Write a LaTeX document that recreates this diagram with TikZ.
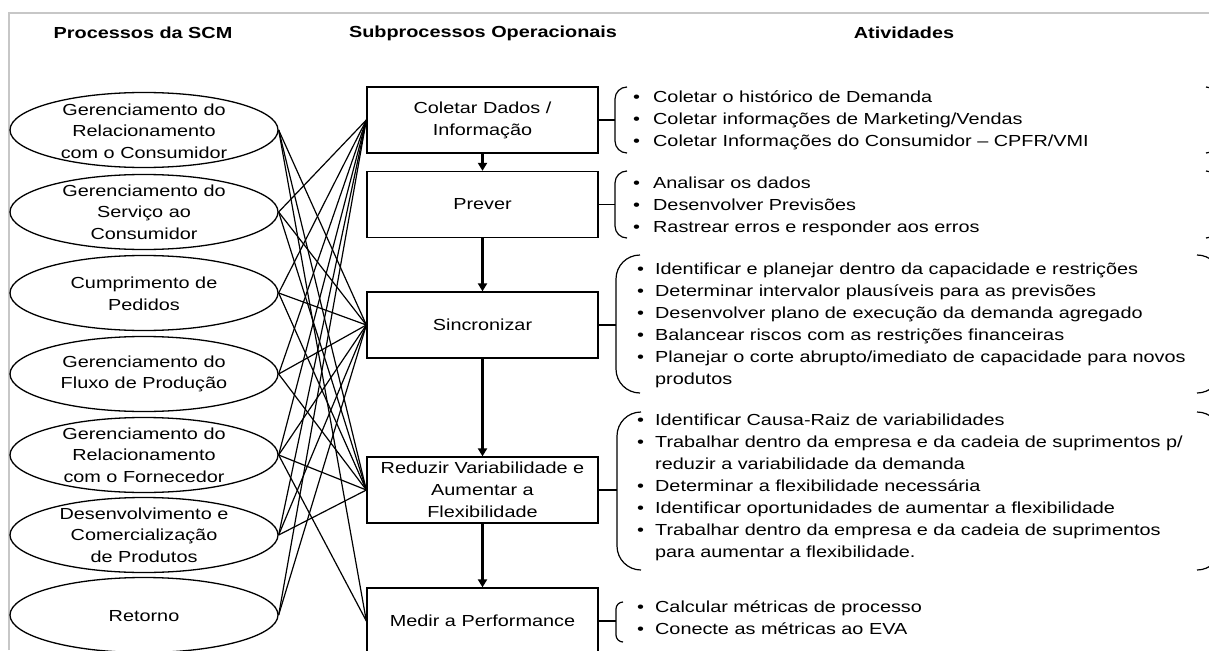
\documentclass[tikz,border=0pt]{standalone}
\usepackage{fontspec}
\setmainfont{Liberation Sans}[FakeStretch=1.24,BoldFeatures={FakeStretch=1.24}]
\usetikzlibrary{shapes.geometric,arrows.meta}
\begin{document}
\begin{tikzpicture}[x=1pt,y=-1pt,
  proc/.style={ellipse,draw,line width=1.3pt,minimum width=268pt,minimum height=75pt,inner sep=0pt},
  proctext/.style={align=center,inner sep=0pt,font=\fontsize{16}{21.5}\selectfont},
  subbox/.style={draw,line width=1.3pt,minimum width=231pt,minimum height=66pt,align=center,inner sep=0pt,font=\fontsize{16}{22}\selectfont},
  head/.style={font=\bfseries\fontsize{16}{20}\selectfont},
  link/.style={line width=1.2pt},
  flow/.style={line width=2.2pt,-{Triangle[length=8pt,width=9pt]}},
  bracket/.style={line width=1.2pt},
  acts/.style={anchor=west,inner sep=0pt,font=\fontsize{16}{22}\selectfont},
  frame/.style={draw=black!22,line width=2pt}
]
\useasboundingbox (0,0) rectangle (1209,650);
\clip (0,0) rectangle (1209,650);

% outer frame
\draw[frame] (9,650) -- (9,13) -- (1209,13);

% column headings
\node[head] (h1) at (143,33) {Processos da SCM};
\node[head] (h2) at (483,33) {Subprocessos Operacionais};
\node[head] (h3) at (904,33) {Atividades};

% SCM processes
\node[proc] (e1) at (144,130) {};
\node[proc] (e2) at (144,212) {};
\node[proc] (e3) at (144,293) {};
\node[proc] (e4) at (144,374) {};
\node[proc] (e5) at (144,455) {};
\node[proc] (e6) at (144,535) {};
\node[proc] (e7) at (144,615) {};
\node[proctext] (e1t) at (144,131) {Gerenciamento do\\Relacionamento\\com o Consumidor};
\node[proctext] (e2t) at (144,212) {Gerenciamento do\\Serviço ao\\Consumidor};
\node[proctext] (e3t) at (144,294) {Cumprimento de\\Pedidos};
\node[proctext] (e4t) at (144,374) {Gerenciamento do\\Fluxo de Produção};
\node[proctext] (e5t) at (144,455) {Gerenciamento do\\Relacionamento\\com o Fornecedor};
\node[proctext] (e6t) at (144,535) {Desenvolvimento e\\Comercialização\\de Produtos};
\node[proctext] (e7t) at (144,616) {Retorno};

% operational subprocesses
\node[subbox] (b1) at (482.5,120) {Coletar Dados /\\Informação};
\node[subbox] (b2) at (482.5,204.5) {Prever};
\node[subbox] (b3) at (482.5,325) {Sincronizar};
\node[subbox] (b4) at (482.5,490) {Reduzir Variabilidade e\\Aumentar a\\Flexibilidade};
\node[subbox] (b5) at (482.5,621) {Medir a Performance};

% sequence of subprocesses
\draw[flow] (b1) -- (b2);
\draw[flow] (b2) -- (b3);
\draw[flow] (b3) -- (b4);
\draw[flow] (b4) -- (b5);

% interfaces between processes and subprocesses
\foreach \e/\b in {e1/b3,e1/b4,e1/b5,
                   e2/b1,e2/b3,e2/b4,
                   e3/b1,e3/b3,e3/b4,
                   e4/b1,e4/b3,e4/b4,
                   e5/b1,e5/b3,e5/b4,e5/b5,
                   e6/b1,e6/b3,e6/b4,
                   e7/b1,e7/b3}
  \draw[link] (\e.east) -- (\b.west);

% brackets joining each subprocess to its activities
\coordinate (k1) at (615,120);
\coordinate (k2) at (615,204.5);
\coordinate (k3) at (616,325);
\coordinate (k4) at (617,490);
\coordinate (k5) at (616,621);
\draw[bracket] (b1.east) -- (k1);
\draw[bracket] (b2.east) -- (k2);
\draw[bracket] (b3.east) -- (k3);
\draw[bracket] (b4.east) -- (k4);
\draw[bracket] (b5.east) -- (k5);
\draw[bracket,rounded corners=12pt] (627,87) -- (615,87) -- (615,153) -- (627,153);
\draw[bracket,rounded corners=12pt] (627,171) -- (615,171) -- (615,238) -- (627,238);
\draw[bracket,rounded corners=24pt] (640,255) -- (616,255) -- (616,393) -- (640,393);
\draw[bracket,rounded corners=24pt] (641,412) -- (617,412) -- (617,570) -- (641,570);
\draw[bracket,rounded corners=7pt] (623,602) -- (616,602) -- (616,642) -- (623,642);
% closing brackets on the right
\draw[bracket,rounded corners=12pt] (1206,87) -- (1218,87) -- (1218,153) -- (1206,153);
\draw[bracket,rounded corners=12pt] (1206,171) -- (1218,171) -- (1218,238) -- (1206,238);
\draw[bracket,rounded corners=24pt] (1197,255) -- (1221,255) -- (1221,393) -- (1197,393);
\draw[bracket,rounded corners=24pt] (1197,412) -- (1221,412) -- (1221,570) -- (1197,570);

% activities
\node[acts] (a1) at (633,120) {\begin{tabular}{@{}l@{\hspace{13pt}}l@{}}
•&Coletar o histórico de Demanda\\
•&Coletar informações de Marketing/Vendas\\
•&Coletar Informações do Consumidor – CPFR/VMI
\end{tabular}};
\node[acts] (a2) at (633,206) {\begin{tabular}{@{}l@{\hspace{13pt}}l@{}}
•&Analisar os dados\\
•&Desenvolver Previsões\\
•&Rastrear erros e responder aos erros
\end{tabular}};
\node[acts] (a3) at (637,325) {\begin{tabular}{@{}l@{\hspace{11pt}}l@{}}
•&Identificar e planejar dentro da capacidade e restrições\\
•&Determinar intervalor plausíveis para as previsões\\
•&Desenvolver plano de execução da demanda agregado\\
•&Balancear riscos com as restrições financeiras\\
•&Planejar o corte abrupto/imediato de capacidade para novos\\
&produtos
\end{tabular}};
\node[acts] (a4) at (637,487) {\begin{tabular}{@{}l@{\hspace{11pt}}l@{}}
•&Identificar Causa-Raiz de variabilidades\\
•&Trabalhar dentro da empresa e da cadeia de suprimentos p/\\
&reduzir a variabilidade da demanda\\
•&Determinar a flexibilidade necessária\\
•&Identificar oportunidades de aumentar a flexibilidade\\
•&Trabalhar dentro da empresa e da cadeia de suprimentos\\
&para aumentar a flexibilidade.
\end{tabular}};
\node[acts] (a5) at (637,619) {\begin{tabular}{@{}l@{\hspace{11pt}}l@{}}
•&Calcular métricas de processo\\
•&Conecte as métricas ao EVA
\end{tabular}};
\end{tikzpicture}
\end{document}
